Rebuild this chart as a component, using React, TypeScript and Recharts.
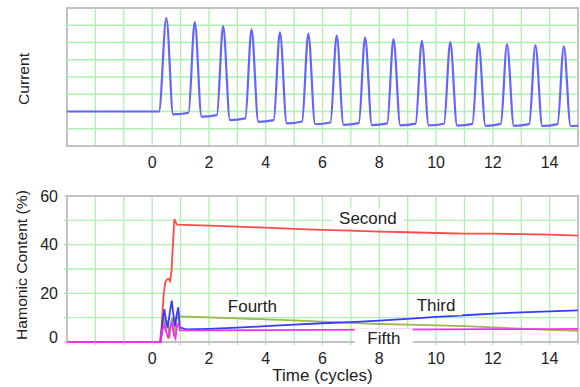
import React from 'react'
import { LineChart, Line, XAxis, YAxis, CartesianGrid, ReferenceArea, ReferenceDot, ReferenceLine, Label } from 'recharts'

const FONT = '"Liberation Sans", Arial, sans-serif'

// time axis (cycles)
const cycleGrid = [-3, -2, -1, 0, 1, 2, 3, 4, 5, 6, 7, 8, 9, 10, 11, 12, 13, 14, 15]
const currentGrid = [1, 2, 3, 4, 5, 6, 7]
const percentTicks = [0, 10, 20, 30, 40, 50, 60]

// current waveform, one pulse per cycle
const currentBase = 2
const currentPeaks = [7.42, 7.18, 6.95, 6.76, 6.6, 6.51, 6.42, 6.3, 6.2, 6.1, 6.02, 5.95, 5.9, 5.85, 5.78]
const troughLow = [1.83, 1.7, 1.5, 1.4, 1.31, 1.26, 1.23, 1.21, 1.2, 1.19, 1.18, 1.17, 1.17, 1.16, 1.16]
const troughHigh = [1.93, 1.79, 1.6, 1.5, 1.42, 1.36, 1.33, 1.31, 1.3, 1.29, 1.28, 1.28, 1.27, 1.27, 1.2]

// harmonic content (%)
const secondTime = [-3, 0.27, 0.33, 0.4, 0.46, 0.52, 0.58, 0.63, 0.68, 0.78, 0.82, 0.88, 2, 3, 4, 5, 6, 7, 8, 9, 10, 11, 12, 13, 14, 15]
const secondValue = [0, 0, 6, 19, 24.5, 25.8, 26, 25, 29, 50.5, 49.3, 48.2, 47.8, 47.4, 47, 46.5, 46.1, 45.8, 45.4, 45.1, 44.8, 44.5, 44.5, 44.3, 44.1, 43.7]

const thirdTime = [-3, 0.3, 0.36, 0.43, 0.5, 0.55, 0.62, 0.69, 0.75, 0.8, 0.86, 0.92, 0.97, 1.2, 2, 3, 4, 5, 6, 7, 8, 9, 10, 11, 12, 13, 14, 15]
const thirdValue = [0, 0, 8, 13.5, 8, 6, 12, 17, 11, 6.5, 11, 14.3, 6, 5.2, 5.4, 5.9, 6.5, 7.1, 7.7, 8.2, 8.8, 9.5, 10.3, 11, 11.7, 12.2, 12.6, 13]

const fourthTime = [-3, 0.3, 0.36, 0.42, 0.48, 0.55, 0.61, 0.68, 0.74, 0.8, 0.86, 0.92, 1.5, 2, 3, 4, 5, 6, 7, 8, 9, 10, 11, 12, 13, 14, 15]
const fourthValue = [0, 0, 6, 10, 4, 9, 1.5, 9, 10, 3, 9.5, 10.5, 10.3, 10.1, 9.7, 9.3, 8.9, 8.4, 7.9, 7.4, 7.1, 6.8, 6.5, 6.0, 5.5, 5.0, 4.6]

const fifthTime = [-3, 0.3, 0.36, 0.44, 0.5, 0.57, 0.63, 0.7, 0.76, 0.82, 0.88, 0.93, 0.98, 2, 4, 6, 8, 10, 12, 14, 15]
const fifthValue = [0, 0, 5, 7, 4, 1.5, 6, 8, 3, 1.5, 7, 7.5, 4.8, 4.8, 4.9, 5.0, 5.1, 5.2, 5.3, 5.3, 5.4]

const tags = [
  { name: 'Second', t: 7.6, v: 50.9, w: 72 },
  { name: 'Fourth', t: 3.53, v: 14.4, w: 62 },
  { name: 'Third', t: 10.0, v: 15.1, w: 52 },
  { name: 'Fifth', t: 8.16, v: 1.4, w: 58 },
]

const currentData: { t: number; v: number }[] = [{ t: -3, v: currentBase }, { t: 0.24, v: currentBase }]
currentPeaks.forEach((p, i) => {
  currentData.push({ t: i + 0.5, v: p })
  currentData.push({ t: i + 0.74, v: troughLow[i] })
  currentData.push({ t: i + 1.28, v: troughHigh[i] })
})

const zip = (ts: number[], vs: number[]) => ts.map((t, i) => ({ t, v: vs[i] }))

const tickText = (v: number) => (v >= 0 && v <= 14 && v % 2 === 0 ? String(v) : '')

const gridColor = '#aef0ae'
const borderColor = '#c2c2c2'
const textColor = '#222'

const makeTag = (name: string, w: number) => (props: any) => {
  const { cx, cy } = props
  return (
    <g>
      <rect x={cx - w / 2} y={cy - 10} width={w} height={20} fill="#fff" />
      <text x={cx} y={cy} textAnchor="middle" dominantBaseline="central" fontSize={17} fontFamily={FONT} fill={textColor}>
        {name}
      </text>
    </g>
  )
}

const YTitle = (text: string, x: number, cy: number, len: number) => () => (
  <text x={x} y={cy} transform={`rotate(-90, ${x}, ${cy})`} textAnchor="middle" dominantBaseline="central"
    fontSize={15.5} fontFamily={FONT} fill={textColor} textLength={len} lengthAdjust="spacingAndGlyphs">
    {text}
  </text>
)

const PercentTick = (props: any) => {
  const { x, y, payload } = props
  if (payload.value % 20 !== 0) return <g />
  return (
    <text x={x} y={payload.value === 0 ? y - 5 : y} dy="0.35em" textAnchor="end" fontSize={16} fontFamily={FONT} fill={textColor}>
      {payload.value}
    </text>
  )
}

export default function App() {
  const xTick = { fontSize: 16, fontFamily: FONT, fill: textColor }
  return (
    <div style={{ position: 'absolute', left: 0, top: 0, width: 580, height: 387, background: '#fff', fontFamily: FONT }}>
      <LineChart width={580} height={180} data={currentData} margin={{ top: 8, right: 2, left: 0, bottom: 0 }}>
        <CartesianGrid stroke={gridColor} strokeWidth={1.3} verticalValues={cycleGrid} horizontal={false} />
        {currentGrid.map((v) => (
          <ReferenceLine key={v} y={v} stroke={gridColor} strokeWidth={1.3} />
        ))}
        <XAxis dataKey="t" type="number" domain={[-3, 15]} ticks={cycleGrid} interval={0} tickFormatter={tickText}
          height={34} tickLine={false} axisLine={false} tickSize={6} tickMargin={5} tick={xTick} allowDataOverflow />
        <YAxis type="number" domain={[0, 8]} width={67} tick={false} axisLine={false} tickLine={false}>
          <Label content={YTitle('Current', 23, 79, 52)} />
        </YAxis>
        <ReferenceArea x1={-3} x2={15} y1={0} y2={8} fill="none" stroke={borderColor} strokeWidth={2} ifOverflow="visible" />
        <Line type="monotone" dataKey="v" stroke="#6464ff" strokeWidth={2.2} dot={false} isAnimationActive={false} />
      </LineChart>
      <LineChart width={580} height={207} margin={{ top: 16, right: 2, left: 0, bottom: 0 }}>
        <CartesianGrid stroke={gridColor} strokeWidth={1.3} verticalValues={cycleGrid} horizontal={false} />
        {percentTicks.slice(1, -1).map((v) => (
          <ReferenceLine key={v} y={v} stroke={gridColor} strokeWidth={1.3} />
        ))}
        <XAxis dataKey="t" type="number" domain={[-3, 15]} ticks={cycleGrid} interval={0} tickFormatter={tickText}
          height={45} axisLine={false} tickLine={{ stroke: borderColor }} tickSize={3} tickMargin={8} tick={xTick} allowDataOverflow>
          <Label content={(p: any) => (
            <text x={p.viewBox.x + p.viewBox.width / 2} y={p.viewBox.y + 39} textAnchor="middle" fontSize={17} fontFamily={FONT} fill={textColor}>
              Time (cycles)
            </text>
          )} />
        </XAxis>
        <YAxis type="number" domain={[0, 60]} ticks={percentTicks} interval={0} width={67} axisLine={false}
          tickLine={{ stroke: borderColor }} tickSize={3} tickMargin={6} tick={<PercentTick />}>
          <Label content={YTitle('Hamonic Content (%)', 21, 85, 150)} />
        </YAxis>
        <ReferenceArea x1={-3} x2={15} y1={0} y2={60} fill="none" stroke={borderColor} strokeWidth={2} ifOverflow="visible" />
        <Line data={zip(secondTime, secondValue)} dataKey="v" type="linear" stroke="#ff4a4a" strokeWidth={1.8} dot={false} isAnimationActive={false} />
        <Line data={zip(fourthTime, fourthValue)} dataKey="v" type="linear" stroke="#9ab84c" strokeWidth={1.8} dot={false} isAnimationActive={false} />
        <Line data={zip(thirdTime, thirdValue)} dataKey="v" type="linear" stroke="#3a3aff" strokeWidth={1.8} dot={false} isAnimationActive={false} />
        <Line data={zip(fifthTime, fifthValue)} dataKey="v" type="linear" stroke="#f030f0" strokeWidth={1.8} dot={false} isAnimationActive={false} />
        {tags.map((g) => (
          <ReferenceDot key={g.name} x={g.t} y={g.v} r={0} ifOverflow="visible" shape={makeTag(g.name, g.w)} />
        ))}
      </LineChart>
    </div>
  )
}
